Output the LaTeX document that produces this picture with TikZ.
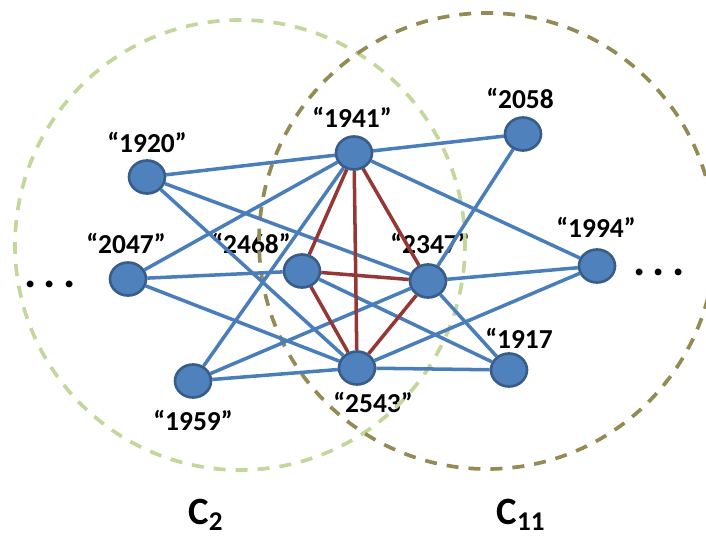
\documentclass[tikz,border=0pt]{standalone}
\usepackage{fontspec}
\setmainfont{Carlito}
\usetikzlibrary{shapes.geometric}

\definecolor{nodefill}{HTML}{4F81BD}
\definecolor{nodeline}{HTML}{385D8A}
\definecolor{linkblue}{HTML}{4A7EBB}
\definecolor{corered}{HTML}{953735}
\definecolor{commgreen}{HTML}{C3D69B}
\definecolor{commolive}{HTML}{948A54}

\pgfdeclarelayer{back}
\pgfsetlayers{back,main}

\begin{document}
\begin{tikzpicture}[
  vertex/.style = {ellipse, draw=nodeline, fill=nodefill, line width=1.5pt,
                   minimum width=7.2mm, minimum height=6.6mm, inner sep=0pt},
  link/.style   = {draw=linkblue, line width=2pt},
  core/.style   = {draw=corered, line width=2pt},
  year/.style   = {font=\bfseries\fontsize{15.6}{17}\selectfont, inner sep=0pt},
  commty/.style = {line width=2.1pt, dash pattern=on 2.4mm off 2mm},
  ctag/.style   = {font=\bfseries\fontsize{22}{24}\selectfont, inner sep=0pt},
  more/.style   = {font=\bfseries\fontsize{26}{26}\selectfont, inner sep=0pt},
]
  \useasboundingbox (0,0) rectangle (14.12,-10.8);

  % keywords, 1 px of the sketch = 0.2 mm
  \node[vertex] (k1920) at (2.94,-3.54) {};
  \node[vertex] (k2047) at (2.56,-5.58) {};
  \node[vertex] (k1959) at (3.86,-7.62) {};
  \node[vertex] (k2468) at (6.04,-5.42) {};
  \node[vertex] (k1941) at (7.08,-3.06) {};
  \node[vertex] (k2543) at (7.14,-7.36) {};
  \node[vertex] (k2347) at (8.56,-5.62) {};
  \node[vertex] (k2058) at (10.46,-2.68) {};
  \node[vertex] (k1917) at (10.18,-7.40) {};
  \node[vertex] (k1994) at (11.94,-5.32) {};

  \begin{pgfonlayer}{back}
    % labels sit under the circles and the links
    \node[year] (t1920) at (2.94,-2.84) {“1920”};
    \node[year] (t2047) at (2.52,-4.86) {“2047”};
    \node[year] (t2468) at (5.02,-4.86) {“2468”};
    \node[year] (t1941) at (7.04,-2.34) {“1941”};
    \node[year] (t2058) at (10.40,-1.96) {“2058};
    \node[year] (t1994) at (11.92,-4.54) {“1994”};
    \node[year] (t2347) at (8.60,-4.86) {“2347”};
    \node[year] (t1917) at (10.38,-6.76) {“1917};
    \node[year] (t2543) at (7.46,-8.04) {“2543”};
    \node[year] (t1959) at (3.86,-8.40) {“1959”};

    \node[more] (dotsl) at (1.00,-5.68) {.\hspace{4.3pt}.\hspace{4.3pt}.};
    \node[more] (dotsr) at (13.18,-5.44) {.\hspace{4.3pt}.\hspace{4.3pt}.};

    % the two communities
    \draw[commty, commgreen] (4.80,-4.90) circle (4.50);
    \draw[commty, commolive] (9.74,-4.82) circle (4.56);
    \node[ctag] (c2) at (4.12,-10.30) {C\textsubscript{2}};
    \node[ctag] (c11) at (10.42,-10.30) {C\textsubscript{11}};

    \draw[link] (k1920) -- (k1941);
    \draw[link] (k1920) -- (k2347);
    \draw[link] (k1920) -- (k2543);
    \draw[link] (k2047) -- (k1941);
    \draw[link] (k2047) -- (k2468);
    \draw[link] (k2047) -- (k2543);
    \draw[link] (k1959) -- (k1941);
    \draw[link] (k1959) -- (k2347);
    \draw[link] (k1959) -- (k2543);
    \draw[link] (k1941) -- (k2058);
    \draw[link] (k1941) -- (k1994);
    \draw[link] (k2347) -- (k2058);
    \draw[link] (k2347) -- (k1994);
    \draw[link] (k2347) -- (k1917);
    \draw[link] (k2543) -- (k1994);
    \draw[link] (k2543) -- (k1917);
    \draw[link] (k2468) -- (k1917);

    % shared core of both communities
    \draw[core] (k1941) -- (k2468);
    \draw[core] (k1941) -- (k2347);
    \draw[core] (k1941) -- (k2543);
    \draw[core] (k2468) -- (k2347);
    \draw[core] (k2468) -- (k2543);
    \draw[core] (k2347) -- (k2543);
  \end{pgfonlayer}
\end{tikzpicture}
\end{document}
